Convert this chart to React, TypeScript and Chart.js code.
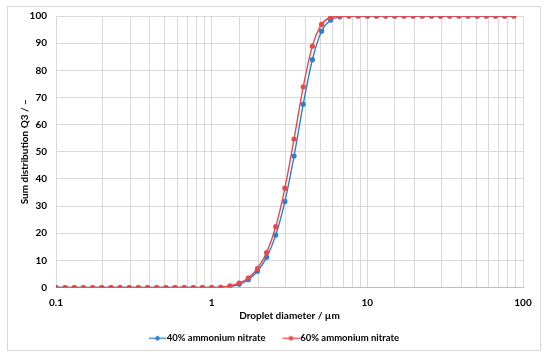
import React, { useEffect, useRef } from "react";
import { Chart, registerables } from "chart.js";

Chart.register(...registerables);

// Droplet diameter (µm), log-spaced measurement classes
const diameters: number[] = [
  0.1, 0.1145, 0.1311, 0.1501, 0.1719, 0.1968, 0.2254, 0.258, 0.2955, 0.3383,
  0.3874, 0.4435, 0.5079, 0.5815, 0.6658, 0.7624, 0.873, 1.0, 1.145, 1.311,
  1.501, 1.719, 1.968, 2.254, 2.58, 2.955, 3.383, 3.874, 4.435, 5.079,
  5.815, 6.658, 7.624, 8.73, 10.0, 11.45, 13.11, 15.01, 17.19, 19.68,
  22.54, 25.8, 29.55, 33.83, 38.74, 44.35, 50.79, 58.15, 66.58, 76.24, 87.3,
];

const q3_40: number[] = [
  0, 0, 0, 0, 0, 0, 0, 0, 0, 0,
  0, 0, 0, 0, 0, 0, 0, 0, 0.05, 0.4,
  1.2, 2.9, 6.0, 11.1, 19.3, 31.7, 48.4, 67.5, 83.9, 94.4,
  98.5, 99.7, 100, 100, 100, 100, 100, 100, 100, 100,
  100, 100, 100, 100, 100, 100, 100, 100, 100, 100, 100,
];

const q3_60: number[] = [
  0, 0, 0, 0, 0, 0, 0, 0, 0, 0,
  0, 0, 0, 0, 0, 0, 0, 0, 0.1, 0.6,
  1.6, 3.5, 7.0, 12.9, 22.4, 36.6, 54.7, 73.9, 88.9, 96.9,
  99.5, 100, 100, 100, 100, 100, 100, 100, 100, 100,
  100, 100, 100, 100, 100, 100, 100, 100, 100, 100, 100,
];

const seriesNames: string[] = ["40% ammonium nitrate", "60% ammonium nitrate"];
const xMajorTicks: number[] = [0.1, 1, 10, 100];

const BLUE = "#2E7FCB";
const RED = "#E8474C";
const FONT = "Lato";

function legendIcon(color: string): HTMLCanvasElement {
  const c = document.createElement("canvas");
  c.width = 28;
  c.height = 7;
  const ctx = c.getContext("2d")!;
  ctx.strokeStyle = color;
  ctx.lineWidth = 1.3;
  ctx.beginPath();
  ctx.moveTo(11, 3.5);
  ctx.lineTo(28, 3.5);
  ctx.stroke();
  ctx.fillStyle = color;
  ctx.beginPath();
  ctx.arc(19.5, 3.5, 2.3, 0, Math.PI * 2);
  ctx.fill();
  return c;
}

const frame = {
  id: "frame",
  beforeDraw(chart: any) {
    const { ctx, width, height } = chart;
    ctx.save();
    ctx.fillStyle = "#ffffff";
    ctx.fillRect(0, 0, width, height);
    ctx.strokeStyle = "#d9d9d9";
    ctx.lineWidth = 1;
    ctx.strokeRect(7.5, 6.5, 533, 344);
    ctx.restore();
  },
};

export default function App() {
  const ref = useRef<HTMLCanvasElement | null>(null);

  useEffect(() => {
    if (!ref.current) return;
    const icons = [legendIcon(BLUE), legendIcon(RED)];
    const chart = new Chart(ref.current, {
      type: "line",
      data: {
        datasets: [
          {
            label: seriesNames[0],
            data: diameters.map((x, i) => ({ x, y: q3_40[i] })),
            borderColor: BLUE,
            backgroundColor: BLUE,
            borderWidth: 1.4,
            pointRadius: 2.6,
            pointBorderWidth: 0,
            pointStyle: "circle",
            cubicInterpolationMode: "monotone",
            order: 1,
          } as any,
          {
            label: seriesNames[1],
            data: diameters.map((x, i) => ({ x, y: q3_60[i] })),
            borderColor: RED,
            backgroundColor: RED,
            borderWidth: 1.4,
            pointRadius: 2.6,
            pointBorderWidth: 0,
            pointStyle: "circle",
            cubicInterpolationMode: "monotone",
            order: 0,
          } as any,
        ],
      },
      options: {
        responsive: false,
        animation: false,
        devicePixelRatio: 1,
        layout: { padding: { top: 16, right: 9, left: 0, bottom: 4 } },
        scales: {
          x: {
            type: "logarithmic",
            min: 0.1,
            max: 100,
            grid: { color: "#d9d9d9", drawTicks: false },
            border: { color: "#bfbfbf" },
            ticks: {
              padding: 9,
              autoSkip: false,
              maxRotation: 0,
              color: "#000",
              font: { family: FONT, size: 10, weight: "bold" },
              callback: (v: any) => (xMajorTicks.includes(Number(v)) ? String(Number(v)) : ""),
            },
            title: {
              display: true,
              text: "Droplet diameter / µm",
              color: "#000",
              font: { family: FONT, size: 10, weight: "bold" },
              padding: { top: 0, bottom: 2 },
            },
            afterFit: (s: any) => {
              s.height = 36;
            },
          },
          y: {
            min: 0,
            max: 100,
            grid: { color: "#d9d9d9", drawTicks: false },
            border: { display: false },
            ticks: {
              stepSize: 10,
              padding: 9,
              color: "#000",
              font: { family: FONT, size: 10, weight: "bold" },
            },
            title: {
              display: true,
              text: "Sum distribution Q3 / –",
              color: "#000",
              font: { family: FONT, size: 10, weight: "bold" },
              padding: { top: 19, bottom: 0 },
            },
            afterFit: (s: any) => {
              s.width = 56;
            },
          },
          yRight: {
            position: "right",
            min: 0,
            max: 100,
            grid: { display: false, drawTicks: false },
            border: { display: false },
            ticks: { display: false },
            afterFit: (s: any) => {
              s.width = 18;
            },
          },
        },
        plugins: {
          legend: {
            position: "bottom",
            labels: {
              usePointStyle: true,
              pointStyleWidth: 20,
              padding: 10,
              color: "#000",
              font: { family: FONT, size: 9.5, weight: "bold" },
              generateLabels: (c: any) =>
                c.data.datasets.map((d: any, i: number) => ({
                  text: d.label,
                  pointStyle: icons[i],
                  fillStyle: d.borderColor,
                  strokeStyle: d.borderColor,
                  lineWidth: 0,
                  hidden: false,
                  datasetIndex: i,
                  fontColor: "#000",
                })),
            },
          },
          tooltip: { enabled: false },
        },
      },
      plugins: [frame],
    });
    return () => chart.destroy();
  }, []);

  return (
    <canvas
      ref={ref}
      width={550}
      height={357}
      style={{ position: "fixed", left: 0, top: 0, width: 550, height: 357 }}
    />
  );
}
